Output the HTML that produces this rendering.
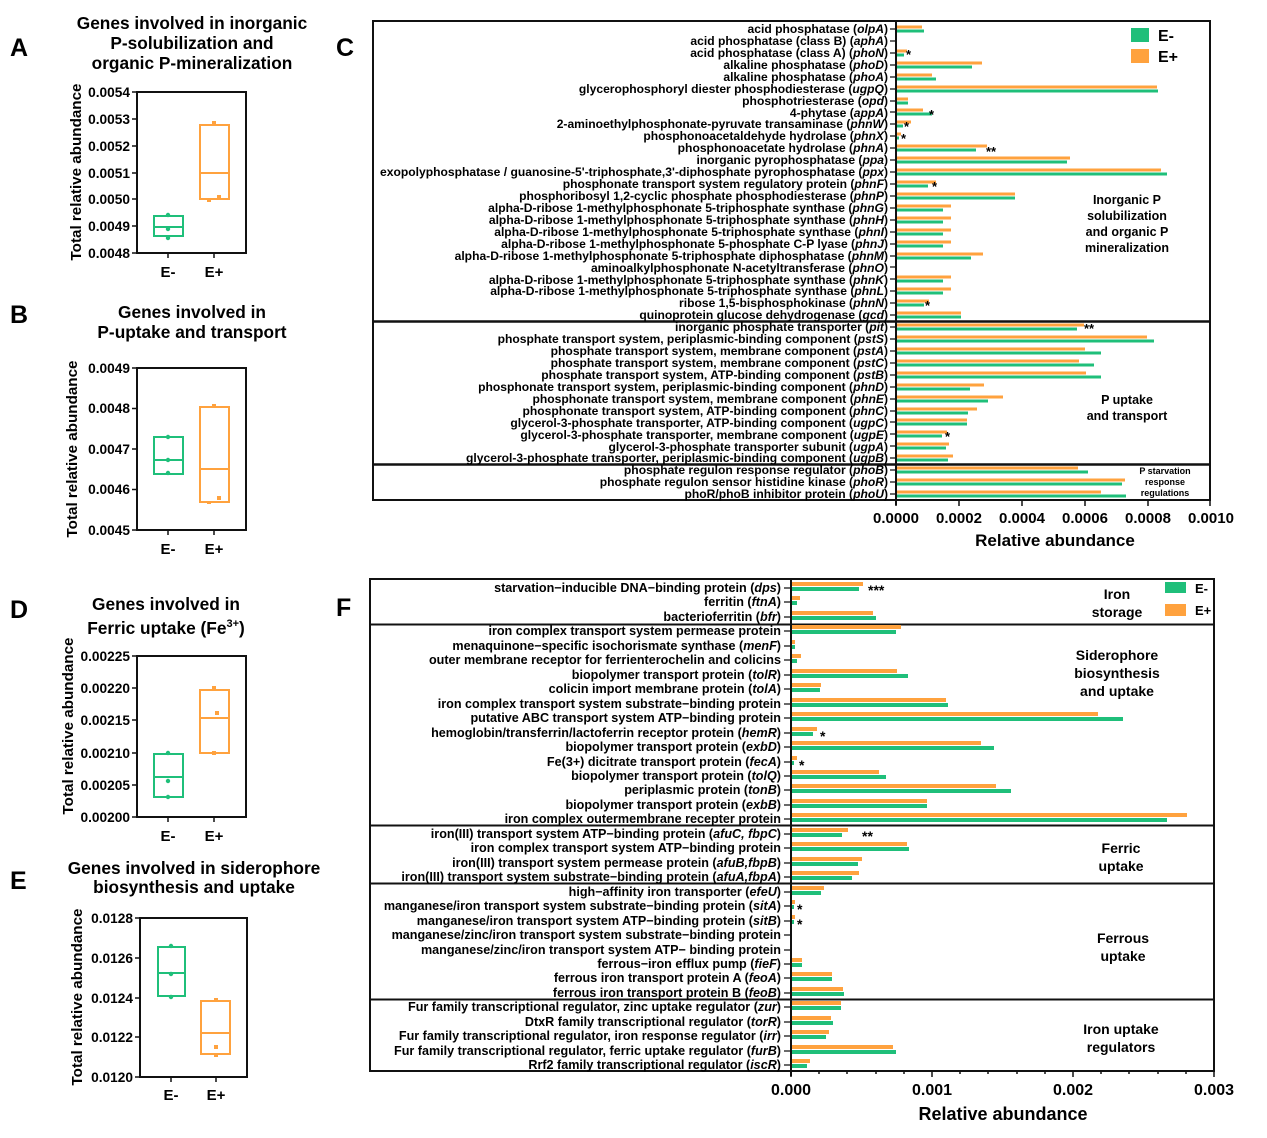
<!DOCTYPE html>
<html><head><meta charset="utf-8"><style>
html,body{margin:0;padding:0;background:#fff}
svg{display:block;font-family:"Liberation Sans",Arial,sans-serif;font-weight:bold}
.g{fill:#1fbf7a}.o{fill:#ffa23e}
.bl{fill:none;stroke:#111;stroke-width:2}
.lc text{font-size:12.1px;text-anchor:end}
.lf text{font-size:12.6px;text-anchor:end}
.tt{font-size:17.3px;text-anchor:middle}
.tk{font-size:13.7px;text-anchor:end}
.yl{font-size:15.2px;text-anchor:middle}
.xl{font-size:15px;text-anchor:middle}
</style></head><body>
<svg width="1267" height="1138" viewBox="0 0 1267 1138" xmlns="http://www.w3.org/2000/svg">
<g font-size="25">
<text x="10" y="56">A</text><text x="10" y="323">B</text><text x="336" y="56">C</text>
<text x="10" y="618">D</text><text x="10" y="889">E</text><text x="336" y="616">F</text></g>

<!-- Panel A -->
<g class="tt">
<text x="192" y="29">Genes involved in inorganic</text>
<text x="192" y="49">P-solubilization  and</text>
<text x="192" y="69">organic P-mineralization</text></g>
<g class="tk">
<text x="130" y="97">0.0054</text><text x="130" y="124">0.0053</text><text x="130" y="151">0.0052</text><text x="130" y="178">0.0051</text><text x="130" y="204">0.0050</text><text x="130" y="231">0.0049</text><text x="130" y="258">0.0048</text></g>
<path d="M132 92h5M132 119h5M132 146h5M132 173h5M132 199h5M132 226h5M132 253h5" stroke="#111" stroke-width="1.5"/>
<rect x="137" y="92" width="109" height="161" class="bl"/>
<path d="M168 253v5M214 253v5" stroke="#111" stroke-width="1.5"/>
<text x="81" y="172" class="yl" transform="rotate(-90 81 172)">Total relative abundance</text>
<g class="xl"><text x="168" y="277">E-</text><text x="214" y="277">E+</text></g>
<rect x="154" y="216" width="29" height="20" fill="none" stroke="#1fbf7a" stroke-width="2"/><path d="M154 227h29" stroke="#1fbf7a" stroke-width="2"/>
<circle cx="168" cy="215" r="2.2" class="g"/><circle cx="168" cy="229" r="2.2" class="g"/><circle cx="168" cy="238" r="2.2" class="g"/>
<rect x="200" y="125" width="29" height="74" fill="none" stroke="#ffa23e" stroke-width="2"/><path d="M200 173h29" stroke="#ffa23e" stroke-width="2"/>
<rect x="212" y="121" width="4" height="4" class="o"/><rect x="217" y="195" width="4" height="4" class="o"/><rect x="207" y="199" width="4" height="3" class="o"/>

<!-- Panel B -->
<g class="tt">
<text x="192" y="318">Genes involved in</text>
<text x="192" y="338">P-uptake and transport</text></g>
<g class="tk">
<text x="130" y="373">0.0049</text><text x="130" y="413">0.0048</text><text x="130" y="454">0.0047</text><text x="130" y="494">0.0046</text><text x="130" y="535">0.0045</text></g>
<path d="M132 368h5M132 408.5h5M132 449h5M132 489.5h5M132 530h5" stroke="#111" stroke-width="1.5"/>
<rect x="137" y="368" width="109" height="162" class="bl"/>
<path d="M168 530v5M214 530v5" stroke="#111" stroke-width="1.5"/>
<text x="77" y="449" class="yl" transform="rotate(-90 77 449)">Total relative abundance</text>
<g class="xl"><text x="168" y="554">E-</text><text x="214" y="554">E+</text></g>
<rect x="154" y="437" width="29" height="37" fill="none" stroke="#1fbf7a" stroke-width="2"/><path d="M154 460h29" stroke="#1fbf7a" stroke-width="2"/>
<circle cx="168" cy="437" r="2.2" class="g"/><circle cx="168" cy="460" r="2.2" class="g"/><circle cx="168" cy="473" r="2.2" class="g"/>
<rect x="200" y="407" width="29" height="95" fill="none" stroke="#ffa23e" stroke-width="2"/><path d="M200 469h29" stroke="#ffa23e" stroke-width="2"/>
<rect x="212" y="404" width="4" height="4" class="o"/><rect x="217" y="496" width="4" height="4" class="o"/><rect x="207" y="501" width="4" height="3" class="o"/>

<!-- Panel D -->
<g class="tt">
<text x="166" y="610">Genes involved in</text>
<text x="166" y="634">Ferric uptake (Fe<tspan font-size="11" dy="-7">3+</tspan><tspan dy="7">)</tspan></text></g>
<g class="tk">
<text x="130" y="661">0.00225</text><text x="130" y="693">0.00220</text><text x="130" y="725">0.00215</text><text x="130" y="758">0.00210</text><text x="130" y="790">0.00205</text><text x="130" y="822">0.00200</text></g>
<path d="M132 656h5M132 688h5M132 720h5M132 753h5M132 785h5M132 817h5" stroke="#111" stroke-width="1.5"/>
<rect x="137" y="656" width="109" height="161" class="bl"/>
<path d="M168 817v5M214 817v5" stroke="#111" stroke-width="1.5"/>
<text x="73" y="726" class="yl" transform="rotate(-90 73 726)">Total relative abundance</text>
<g class="xl"><text x="168" y="841">E-</text><text x="214" y="841">E+</text></g>
<rect x="154" y="754" width="29" height="43" fill="none" stroke="#1fbf7a" stroke-width="2"/><path d="M154 777h29" stroke="#1fbf7a" stroke-width="2"/>
<circle cx="168" cy="753" r="2.2" class="g"/><circle cx="168" cy="781" r="2.2" class="g"/><circle cx="168" cy="797" r="2.2" class="g"/>
<rect x="200" y="690" width="29" height="63" fill="none" stroke="#ffa23e" stroke-width="2"/><path d="M200 718h29" stroke="#ffa23e" stroke-width="2"/>
<rect x="212" y="686" width="4" height="4" class="o"/><rect x="215" y="711" width="4" height="4" class="o"/><rect x="212" y="751" width="4" height="4" class="o"/>

<!-- Panel E -->
<g class="tt">
<text x="194" y="874">Genes involved in siderophore</text>
<text x="194" y="893">biosynthesis and uptake</text></g>
<g class="tk">
<text x="133" y="923">0.0128</text><text x="133" y="963">0.0126</text><text x="133" y="1003">0.0124</text><text x="133" y="1042">0.0122</text><text x="133" y="1082">0.0120</text></g>
<path d="M135 918h5M135 958h5M135 998h5M135 1037h5M135 1077h5" stroke="#111" stroke-width="1.5"/>
<rect x="140" y="918" width="107" height="159" class="bl"/>
<path d="M171 1077v5M216 1077v5" stroke="#111" stroke-width="1.5"/>
<text x="82" y="997" class="yl" transform="rotate(-90 82 997)">Total relative abundance</text>
<g class="xl"><text x="171" y="1100">E-</text><text x="216" y="1100">E+</text></g>
<rect x="158" y="947" width="27" height="49" fill="none" stroke="#1fbf7a" stroke-width="2"/><path d="M158 973h27" stroke="#1fbf7a" stroke-width="2"/>
<circle cx="171" cy="946" r="2.2" class="g"/><circle cx="171" cy="974" r="2.2" class="g"/><circle cx="171" cy="997" r="2.2" class="g"/>
<rect x="201" y="1001" width="29" height="53" fill="none" stroke="#ffa23e" stroke-width="2"/><path d="M201 1033h29" stroke="#ffa23e" stroke-width="2"/>
<rect x="214" y="998" width="4" height="4" class="o"/><rect x="214" y="1045" width="4" height="4" class="o"/><rect x="214" y="1054" width="4" height="3" class="o"/>

<!-- Panel C -->
<rect x="373" y="21" width="837" height="479" class="bl"/>
<path d="M373 321.5H1210M373 464.5H1210" stroke="#111" stroke-width="2.5"/>
<path d="M896 21V505" stroke="#111" stroke-width="2"/>
<g class="lc">
<text x="888" y="33">acid phosphatase (<tspan font-style="italic">olpA</tspan>)</text>
<text x="888" y="45">acid phosphatase (class B) (<tspan font-style="italic">aphA</tspan>)</text>
<text x="888" y="57">acid phosphatase (class A) (<tspan font-style="italic">phoN</tspan>)</text>
<text x="888" y="69">alkaline phosphatase (<tspan font-style="italic">phoD</tspan>)</text>
<text x="888" y="81">alkaline phosphatase (<tspan font-style="italic">phoA</tspan>)</text>
<text x="888" y="93">glycerophosphoryl diester phosphodiesterase (<tspan font-style="italic">ugpQ</tspan>)</text>
<text x="888" y="105">phosphotriesterase (<tspan font-style="italic">opd</tspan>)</text>
<text x="888" y="117">4-phytase (<tspan font-style="italic">appA</tspan>)</text>
<text x="888" y="128">2-aminoethylphosphonate-pyruvate transaminase (<tspan font-style="italic">phnW</tspan>)</text>
<text x="888" y="140">phosphonoacetaldehyde hydrolase (<tspan font-style="italic">phnX</tspan>)</text>
<text x="888" y="152">phosphonoacetate hydrolase (<tspan font-style="italic">phnA</tspan>)</text>
<text x="888" y="164">inorganic pyrophosphatase (<tspan font-style="italic">ppa</tspan>)</text>
<text x="888" y="176" textLength="508" lengthAdjust="spacingAndGlyphs">exopolyphosphatase / guanosine-5'-triphosphate,3'-diphosphate pyrophosphatase (<tspan font-style="italic">ppx</tspan>)</text>
<text x="888" y="188">phosphonate transport system regulatory protein (<tspan font-style="italic">phnF</tspan>)</text>
<text x="888" y="200">phosphoribosyl 1,2-cyclic phosphate phosphodiesterase (<tspan font-style="italic">phnP</tspan>)</text>
<text x="888" y="212">alpha-D-ribose 1-methylphosphonate 5-triphosphate synthase (<tspan font-style="italic">phnG</tspan>)</text>
<text x="888" y="224">alpha-D-ribose 1-methylphosphonate 5-triphosphate synthase (<tspan font-style="italic">phnH</tspan>)</text>
<text x="888" y="236">alpha-D-ribose 1-methylphosphonate 5-triphosphate synthase (<tspan font-style="italic">phnI</tspan>)</text>
<text x="888" y="248">alpha-D-ribose 1-methylphosphonate 5-phosphate C-P lyase (<tspan font-style="italic">phnJ</tspan>)</text>
<text x="888" y="260">alpha-D-ribose 1-methylphosphonate 5-triphosphate diphosphatase (<tspan font-style="italic">phnM</tspan>)</text>
<text x="888" y="272">aminoalkylphosphonate N-acetyltransferase (<tspan font-style="italic">phnO</tspan>)</text>
<text x="888" y="284">alpha-D-ribose 1-methylphosphonate 5-triphosphate synthase (<tspan font-style="italic">phnK</tspan>)</text>
<text x="888" y="295">alpha-D-ribose 1-methylphosphonate 5-triphosphate synthase (<tspan font-style="italic">phnL</tspan>)</text>
<text x="888" y="307">ribose 1,5-bisphosphokinase (<tspan font-style="italic">phnN</tspan>)</text>
<text x="888" y="319">quinoprotein glucose dehydrogenase (<tspan font-style="italic">gcd</tspan>)</text>
<text x="888" y="331">inorganic phosphate transporter (<tspan font-style="italic">pit</tspan>)</text>
<text x="888" y="343">phosphate transport system, periplasmic-binding component (<tspan font-style="italic">pstS</tspan>)</text>
<text x="888" y="355">phosphate transport system, membrane component (<tspan font-style="italic">pstA</tspan>)</text>
<text x="888" y="367">phosphate transport system, membrane component (<tspan font-style="italic">pstC</tspan>)</text>
<text x="888" y="379">phosphate transport system, ATP-binding component (<tspan font-style="italic">pstB</tspan>)</text>
<text x="888" y="391">phosphonate transport system, periplasmic-binding component (<tspan font-style="italic">phnD</tspan>)</text>
<text x="888" y="403">phosphonate transport system, membrane component (<tspan font-style="italic">phnE</tspan>)</text>
<text x="888" y="415">phosphonate transport system, ATP-binding component (<tspan font-style="italic">phnC</tspan>)</text>
<text x="888" y="427">glycerol-3-phosphate transporter, ATP-binding component (<tspan font-style="italic">ugpC</tspan>)</text>
<text x="888" y="439">glycerol-3-phosphate transporter, membrane component (<tspan font-style="italic">ugpE</tspan>)</text>
<text x="888" y="451">glycerol-3-phosphate transporter subunit (<tspan font-style="italic">ugpA</tspan>)</text>
<text x="888" y="462">glycerol-3-phosphate transporter, periplasmic-binding component (<tspan font-style="italic">ugpB</tspan>)</text>
<text x="888" y="474">phosphate regulon response regulator (<tspan font-style="italic">phoB</tspan>)</text>
<text x="888" y="486">phosphate regulon sensor histidine kinase (<tspan font-style="italic">phoR</tspan>)</text>
<text x="888" y="498">phoR/phoB inhibitor protein (<tspan font-style="italic">phoU</tspan>)</text>
</g>
<path d="M890 29h6M890 41h6M890 53h6M890 65h6M890 77h6M890 89h6M890 101h6M890 112h6M890 124h6M890 136h6M890 148h6M890 160h6M890 172h6M890 184h6M890 196h6M890 208h6M890 220h6M890 232h6M890 244h6M890 256h6M890 267h6M890 279h6M890 291h6M890 303h6M890 315h6M890 327h6M890 339h6M890 351h6M890 363h6M890 375h6M890 387h6M890 399h6M890 411h6M890 422h6M890 434h6M890 446h6M890 458h6M890 470h6M890 482h6M890 494h6" stroke="#111" stroke-width="1.2"/>
<g>
<rect x="897" y="25.5" width="25" height="3" class="o"/><rect x="897" y="29.5" width="27" height="3" class="g"/>
<rect x="897" y="49.5" width="10" height="3" class="o"/><rect x="897" y="53.5" width="7" height="3" class="g"/>
<rect x="897" y="61.5" width="85" height="3" class="o"/><rect x="897" y="65.5" width="75" height="3" class="g"/>
<rect x="897" y="73.5" width="35" height="3" class="o"/><rect x="897" y="77.5" width="39" height="3" class="g"/>
<rect x="897" y="85.5" width="260" height="3" class="o"/><rect x="897" y="89.5" width="261" height="3" class="g"/>
<rect x="897" y="97.5" width="11" height="3" class="o"/><rect x="897" y="101.5" width="11" height="3" class="g"/>
<rect x="897" y="108.5" width="26" height="3" class="o"/><rect x="897" y="112.5" width="35" height="3" class="g"/>
<rect x="897" y="120.5" width="14" height="3" class="o"/><rect x="897" y="124.5" width="6" height="3" class="g"/>
<rect x="897" y="132.5" width="4" height="3" class="o"/><rect x="897" y="136.5" width="2" height="3" class="g"/>
<rect x="897" y="144.5" width="90" height="3" class="o"/><rect x="897" y="148.5" width="79" height="3" class="g"/>
<rect x="897" y="156.5" width="173" height="3" class="o"/><rect x="897" y="160.5" width="170" height="3" class="g"/>
<rect x="897" y="168.5" width="264" height="3" class="o"/><rect x="897" y="172.5" width="270" height="3" class="g"/>
<rect x="897" y="180.5" width="39" height="3" class="o"/><rect x="897" y="184.5" width="31" height="3" class="g"/>
<rect x="897" y="192.5" width="118" height="3" class="o"/><rect x="897" y="196.5" width="118" height="3" class="g"/>
<rect x="897" y="204.5" width="54" height="3" class="o"/><rect x="897" y="208.5" width="46" height="3" class="g"/>
<rect x="897" y="216.5" width="54" height="3" class="o"/><rect x="897" y="220.5" width="46" height="3" class="g"/>
<rect x="897" y="228.5" width="54" height="3" class="o"/><rect x="897" y="232.5" width="46" height="3" class="g"/>
<rect x="897" y="240.5" width="54" height="3" class="o"/><rect x="897" y="244.5" width="46" height="3" class="g"/>
<rect x="897" y="252.5" width="86" height="3" class="o"/><rect x="897" y="256.5" width="74" height="3" class="g"/>
<rect x="897" y="275.5" width="54" height="3" class="o"/><rect x="897" y="279.5" width="46" height="3" class="g"/>
<rect x="897" y="287.5" width="54" height="3" class="o"/><rect x="897" y="291.5" width="46" height="3" class="g"/>
<rect x="897" y="299.5" width="32" height="3" class="o"/><rect x="897" y="303.5" width="27" height="3" class="g"/>
<rect x="897" y="311.5" width="64" height="3" class="o"/><rect x="897" y="315.5" width="64" height="3" class="g"/>
<rect x="897" y="323.5" width="187" height="3" class="o"/><rect x="897" y="327.5" width="180" height="3" class="g"/>
<rect x="897" y="335.5" width="250" height="3" class="o"/><rect x="897" y="339.5" width="257" height="3" class="g"/>
<rect x="897" y="347.5" width="188" height="3" class="o"/><rect x="897" y="351.5" width="204" height="3" class="g"/>
<rect x="897" y="359.5" width="182" height="3" class="o"/><rect x="897" y="363.5" width="197" height="3" class="g"/>
<rect x="897" y="371.5" width="189" height="3" class="o"/><rect x="897" y="375.5" width="204" height="3" class="g"/>
<rect x="897" y="383.5" width="87" height="3" class="o"/><rect x="897" y="387.5" width="73" height="3" class="g"/>
<rect x="897" y="395.5" width="106" height="3" class="o"/><rect x="897" y="399.5" width="91" height="3" class="g"/>
<rect x="897" y="407.5" width="80" height="3" class="o"/><rect x="897" y="411.5" width="71" height="3" class="g"/>
<rect x="897" y="418.5" width="70" height="3" class="o"/><rect x="897" y="422.5" width="70" height="3" class="g"/>
<rect x="897" y="430.5" width="50" height="3" class="o"/><rect x="897" y="434.5" width="45" height="3" class="g"/>
<rect x="897" y="442.5" width="52" height="3" class="o"/><rect x="897" y="446.5" width="49" height="3" class="g"/>
<rect x="897" y="454.5" width="56" height="3" class="o"/><rect x="897" y="458.5" width="51" height="3" class="g"/>
<rect x="897" y="466.5" width="181" height="3" class="o"/><rect x="897" y="470.5" width="191" height="3" class="g"/>
<rect x="897" y="478.5" width="228" height="3" class="o"/><rect x="897" y="482.5" width="225" height="3" class="g"/>
<rect x="897" y="490.5" width="204" height="3" class="o"/><rect x="897" y="494.5" width="229" height="3" class="g"/>
</g>
<g font-size="13"><text x="906" y="59">*</text><text x="929" y="119">*</text><text x="904" y="131">*</text><text x="901" y="143">*</text><text x="986" y="156">**</text><text x="932" y="191">*</text><text x="925" y="310">*</text><text x="1084" y="333">**</text><text x="945" y="441">*</text></g>
<rect x="1131" y="28" width="18" height="14" class="g"/><text x="1158" y="41" font-size="16">E-</text>
<rect x="1131" y="49" width="18" height="14" class="o"/><text x="1158" y="62" font-size="16">E+</text>
<g font-size="12.5" text-anchor="middle">
<text x="1127" y="204">Inorganic P</text><text x="1127" y="220">solubilization</text><text x="1127" y="236">and organic P</text><text x="1127" y="252">mineralization</text>
<text x="1127" y="404">P uptake</text><text x="1127" y="420">and transport</text></g>
<g font-size="9" text-anchor="middle"><text x="1165" y="474">P starvation</text><text x="1165" y="485">response</text><text x="1165" y="496">regulations</text></g>
<path d="M896 500v6M959 500v6M1022 500v6M1085 500v6M1148 500v6M1210 500v6" stroke="#111" stroke-width="1.5"/>
<g font-size="15" text-anchor="middle"><text x="896" y="523">0.0000</text><text x="959" y="523">0.0002</text><text x="1022" y="523">0.0004</text><text x="1085" y="523">0.0006</text><text x="1148" y="523">0.0008</text><text x="1211" y="523">0.0010</text></g>
<text x="1055" y="546" font-size="17" text-anchor="middle">Relative abundance</text>

<!-- Panel F -->
<rect x="370" y="579" width="844" height="492" class="bl"/>
<path d="M370 624.5H1214M370 825.5H1214M370 883.5H1214M370 999.5H1214" stroke="#111" stroke-width="2"/>
<path d="M791 579V1076" stroke="#111" stroke-width="2"/>
<g class="lf">
<text x="781" y="592">starvation−inducible DNA−binding protein (<tspan font-style="italic">dps</tspan>)</text>
<text x="781" y="606">ferritin (<tspan font-style="italic">ftnA</tspan>)</text>
<text x="781" y="621">bacterioferritin (<tspan font-style="italic">bfr</tspan>)</text>
<text x="781" y="635">iron complex transport system permease protein</text>
<text x="781" y="650">menaquinone−specific isochorismate synthase (<tspan font-style="italic">menF</tspan>)</text>
<text x="781" y="664">outer membrane receptor for ferrienterochelin and colicins</text>
<text x="781" y="679">biopolymer transport protein (<tspan font-style="italic">tolR</tspan>)</text>
<text x="781" y="693">colicin import membrane protein (<tspan font-style="italic">tolA</tspan>)</text>
<text x="781" y="708">iron complex transport system substrate−binding protein</text>
<text x="781" y="722">putative ABC transport system ATP−binding protein</text>
<text x="781" y="737">hemoglobin/transferrin/lactoferrin receptor protein (<tspan font-style="italic">hemR</tspan>)</text>
<text x="781" y="751">biopolymer transport protein (<tspan font-style="italic">exbD</tspan>)</text>
<text x="781" y="766">Fe(3+) dicitrate transport protein (<tspan font-style="italic">fecA</tspan>)</text>
<text x="781" y="780">biopolymer transport protein (<tspan font-style="italic">tolQ</tspan>)</text>
<text x="781" y="794">periplasmic protein (<tspan font-style="italic">tonB</tspan>)</text>
<text x="781" y="809">biopolymer transport protein (<tspan font-style="italic">exbB</tspan>)</text>
<text x="781" y="823">iron complex outermembrane recepter protein</text>
<text x="781" y="838">iron(III) transport system ATP−binding protein (<tspan font-style="italic">afuC, fbpC</tspan>)</text>
<text x="781" y="852">iron complex transport system ATP−binding protein</text>
<text x="781" y="867">iron(III) transport system permease protein (<tspan font-style="italic">afuB,fbpB</tspan>)</text>
<text x="781" y="881">iron(III) transport system substrate−binding protein (<tspan font-style="italic">afuA,fbpA</tspan>)</text>
<text x="781" y="896">high−affinity iron transporter (<tspan font-style="italic">efeU</tspan>)</text>
<text x="781" y="910">manganese/iron transport system substrate−binding protein (<tspan font-style="italic">sitA</tspan>)</text>
<text x="781" y="925">manganese/iron transport system ATP−binding protein (<tspan font-style="italic">sitB</tspan>)</text>
<text x="781" y="939">manganese/zinc/iron transport system substrate−binding protein</text>
<text x="781" y="954">manganese/zinc/iron transport system ATP− binding protein</text>
<text x="781" y="968">ferrous−iron efflux pump (<tspan font-style="italic">fieF</tspan>)</text>
<text x="781" y="982">ferrous iron transport protein A (<tspan font-style="italic">feoA</tspan>)</text>
<text x="781" y="997">ferrous iron transport protein B (<tspan font-style="italic">feoB</tspan>)</text>
<text x="781" y="1011">Fur family transcriptional regulator, zinc uptake regulator (<tspan font-style="italic">zur</tspan>)</text>
<text x="781" y="1026">DtxR family transcriptional regulator (<tspan font-style="italic">torR</tspan>)</text>
<text x="781" y="1040">Fur family transcriptional regulator, iron response regulator (<tspan font-style="italic">irr</tspan>)</text>
<text x="781" y="1055">Fur family transcriptional regulator, ferric uptake regulator (<tspan font-style="italic">furB</tspan>)</text>
<text x="781" y="1069">Rrf2 family transcriptional regulator (<tspan font-style="italic">iscR</tspan>)</text>
</g>
<path d="M784 588h7M784 602h7M784 617h7M784 631h7M784 646h7M784 660h7M784 675h7M784 689h7M784 704h7M784 718h7M784 733h7M784 747h7M784 762h7M784 776h7M784 790h7M784 805h7M784 819h7M784 834h7M784 848h7M784 863h7M784 877h7M784 892h7M784 906h7M784 921h7M784 935h7M784 950h7M784 964h7M784 978h7M784 993h7M784 1007h7M784 1022h7M784 1036h7M784 1051h7M784 1065h7" stroke="#111" stroke-width="1.2"/>
<g>
<rect x="792" y="582" width="71" height="4" class="o"/><rect x="792" y="587" width="67" height="4" class="g"/>
<rect x="792" y="596" width="8" height="4" class="o"/><rect x="792" y="601" width="5" height="4" class="g"/>
<rect x="792" y="611" width="81" height="4" class="o"/><rect x="792" y="616" width="84" height="4" class="g"/>
<rect x="792" y="625" width="109" height="4" class="o"/><rect x="792" y="630" width="104" height="4" class="g"/>
<rect x="792" y="640" width="3" height="4" class="o"/><rect x="792" y="645" width="3" height="4" class="g"/>
<rect x="792" y="654" width="9" height="4" class="o"/><rect x="792" y="659" width="5" height="4" class="g"/>
<rect x="792" y="669" width="105" height="4" class="o"/><rect x="792" y="674" width="116" height="4" class="g"/>
<rect x="792" y="683" width="29" height="4" class="o"/><rect x="792" y="688" width="28" height="4" class="g"/>
<rect x="792" y="698" width="154" height="4" class="o"/><rect x="792" y="703" width="156" height="4" class="g"/>
<rect x="792" y="712" width="306" height="4" class="o"/><rect x="792" y="717" width="331" height="4" class="g"/>
<rect x="792" y="727" width="25" height="4" class="o"/><rect x="792" y="732" width="21" height="4" class="g"/>
<rect x="792" y="741" width="189" height="4" class="o"/><rect x="792" y="746" width="202" height="4" class="g"/>
<rect x="792" y="756" width="5" height="4" class="o"/><rect x="792" y="761" width="2" height="4" class="g"/>
<rect x="792" y="770" width="87" height="4" class="o"/><rect x="792" y="775" width="94" height="4" class="g"/>
<rect x="792" y="784" width="204" height="4" class="o"/><rect x="792" y="789" width="219" height="4" class="g"/>
<rect x="792" y="799" width="135" height="4" class="o"/><rect x="792" y="804" width="135" height="4" class="g"/>
<rect x="792" y="813" width="395" height="4" class="o"/><rect x="792" y="818" width="375" height="4" class="g"/>
<rect x="792" y="828" width="56" height="4" class="o"/><rect x="792" y="833" width="50" height="4" class="g"/>
<rect x="792" y="842" width="115" height="4" class="o"/><rect x="792" y="847" width="117" height="4" class="g"/>
<rect x="792" y="857" width="70" height="4" class="o"/><rect x="792" y="862" width="66" height="4" class="g"/>
<rect x="792" y="871" width="67" height="4" class="o"/><rect x="792" y="876" width="60" height="4" class="g"/>
<rect x="792" y="886" width="32" height="4" class="o"/><rect x="792" y="891" width="29" height="4" class="g"/>
<rect x="792" y="900" width="3" height="4" class="o"/><rect x="792" y="905" width="2" height="4" class="g"/>
<rect x="792" y="915" width="3" height="4" class="o"/><rect x="792" y="920" width="2" height="4" class="g"/>
<rect x="792" y="958" width="10" height="4" class="o"/><rect x="792" y="963" width="10" height="4" class="g"/>
<rect x="792" y="972" width="40" height="4" class="o"/><rect x="792" y="977" width="40" height="4" class="g"/>
<rect x="792" y="987" width="51" height="4" class="o"/><rect x="792" y="992" width="52" height="4" class="g"/>
<rect x="792" y="1001" width="49" height="4" class="o"/><rect x="792" y="1006" width="49" height="4" class="g"/>
<rect x="792" y="1016" width="39" height="4" class="o"/><rect x="792" y="1021" width="41" height="4" class="g"/>
<rect x="792" y="1030" width="37" height="4" class="o"/><rect x="792" y="1035" width="34" height="4" class="g"/>
<rect x="792" y="1045" width="101" height="4" class="o"/><rect x="792" y="1050" width="104" height="4" class="g"/>
<rect x="792" y="1059" width="18" height="4" class="o"/><rect x="792" y="1064" width="15" height="4" class="g"/>
</g>
<g font-size="14"><text x="868" y="595">***</text><text x="820" y="741">*</text><text x="799" y="770">*</text><text x="862" y="841">**</text><text x="797" y="914">*</text><text x="797" y="929">*</text></g>
<rect x="1165" y="582" width="21" height="11" class="g"/><text x="1195" y="593" font-size="13">E-</text>
<rect x="1165" y="604" width="21" height="12" class="o"/><text x="1195" y="615" font-size="13">E+</text>
<g font-size="14" text-anchor="middle">
<text x="1117" y="599">Iron</text><text x="1117" y="617">storage</text>
<text x="1117" y="660">Siderophore</text><text x="1117" y="678">biosynthesis</text><text x="1117" y="696">and uptake</text>
<text x="1121" y="853">Ferric</text><text x="1121" y="871">uptake</text>
<text x="1123" y="943">Ferrous</text><text x="1123" y="961">uptake</text>
<text x="1121" y="1034">Iron uptake</text><text x="1121" y="1052">regulators</text></g>
<path d="M791 1071v6M932 1071v6M1073 1071v6M1214 1071v6M819 1071v3M847 1071v3M876 1071v3M904 1071v3M960 1071v3M988 1071v3M1017 1071v3M1045 1071v3M1101 1071v3M1129 1071v3M1158 1071v3M1186 1071v3" stroke="#111" stroke-width="1.5"/>
<g font-size="16" text-anchor="middle"><text x="791" y="1095">0.000</text><text x="932" y="1095">0.001</text><text x="1073" y="1095">0.002</text><text x="1214" y="1095">0.003</text></g>
<text x="1003" y="1120" font-size="18" text-anchor="middle">Relative abundance</text>
</svg>
</body></html>
